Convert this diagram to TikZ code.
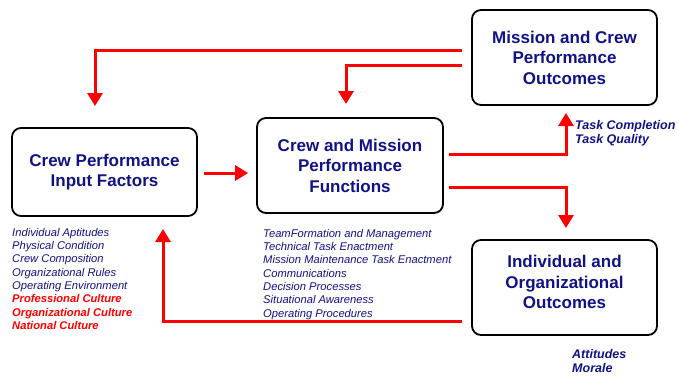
\documentclass[tikz,border=0pt]{standalone}
\usepackage{fontspec}
\setmainfont{Liberation Sans}
\usetikzlibrary{arrows.meta}
\definecolor{navy}{RGB}{18,18,135}
\definecolor{flowred}{RGB}{255,0,0}
\tikzset{
  x=1pt,y=-1pt,
  box/.style={draw=black,line width=1.8pt,rounded corners=9pt,fill=white,
    minimum width=185pt,align=center,text=navy,
    font=\bfseries\fontsize{17}{20.5}\selectfont},
  flow/.style={draw=flowred,line width=3pt,-{Triangle[length=13pt,width=15pt]}},
  listtxt/.style={anchor=north west,inner sep=0pt,align=left,text=navy,
    font=\itshape\fontsize{11.2}{13.3}\selectfont},
  outtxt/.style={anchor=north west,inner sep=0pt,align=left,text=navy,
    font=\bfseries\itshape\fontsize{12.5}{14.5}\selectfont},
}
\begin{document}
\begin{tikzpicture}
\useasboundingbox[fill=white] (0,0) rectangle (679,376);
\node[box,minimum height=88pt] (A) at (104.5,172) {Crew Performance\\Input Factors};
\node[box,minimum width=186pt,minimum height=95pt] (B) at (350,165.5) {Crew and Mission\\Performance\\Functions};
\node[box,minimum height=95pt] (C) at (564.5,57.5) {Mission and Crew\\Performance\\Outcomes};
\node[box,minimum height=95pt,text depth=11pt] (D) at (564.5,287.5) {Individual and\\Organizational\\Outcomes};

\coordinate (t1) at (95,106);
\coordinate (t2) at (346,104);
\coordinate (t4) at (566,113);
\coordinate (t5) at (566,228);
\coordinate (t6) at (163,229);

\draw[flow] ([xshift=-9pt,yshift=7.5pt]C.west) -| (t1);
\draw[flow] ([xshift=-9pt,yshift=-7.5pt]C.west) -| (t2);
\draw[flow] ([xshift=6pt,yshift=-1pt]A.east) -- ([xshift=-8pt,yshift=-7.5pt]B.west);
\draw[flow] ([xshift=5pt,yshift=11.5pt]B.east) -| (t4);
\draw[flow] ([xshift=5pt,yshift=-21.5pt]B.east) -| (t5);
\draw[flow] ([xshift=-9pt,yshift=-33.5pt]D.west) -| (t6);

\node[listtxt] (LA) at (12,228) {Individual Aptitudes\\Physical Condition\\Crew Composition\\Organizational Rules\\Operating Environment\\
  \textcolor{flowred}{\bfseries Professional Culture}\\\textcolor{flowred}{\bfseries Organizational Culture}\\\textcolor{flowred}{\bfseries National Culture}};
\node[listtxt] (LB) at (263,229) {TeamFormation and Management\\Technical Task Enactment\\Mission Maintenance Task Enactment\\Communications\\Decision Processes\\Situational Awareness\\Operating Procedures};
\node[outtxt] (LC) at (575,120) {Task Completion\\Task Quality};
\node[outtxt] (LD) at (572,349) {Attitudes\\Morale};
\end{tikzpicture}
\end{document}
